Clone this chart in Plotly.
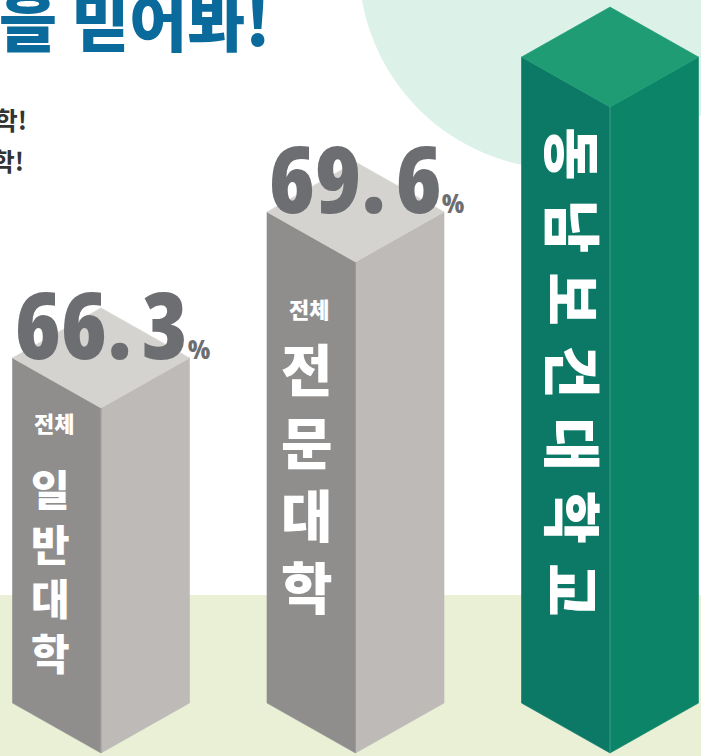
import plotly.graph_objects as go

# ---------------- data ----------------
categories = ["전체 일반대학", "전체 전문대학", "동남보건대학교"]
values = [66.3, 69.6, 73.1]                 # employment rate (%)
show_value = [True, True, False]            # third value label is cropped out of view
scope_labels = ["전체", "전체", ""]
bar_names = ["일반대학", "전문대학", "동남보건대학교"]
title_text = "취업률을 믿어봐!"
sub_lines = ["전국 일반대학보다 취업률 높은 대학!", "전국 전문대학보다 취업률 높은 대학!"]

# ---------------- layout constants ----------------
W, H = 701, 756
STEP_PX = 254.5          # pixels between bar centres
X0_PX = 101              # first bar centre (px)
PX_PER_UNIT = 44.24      # vertical pixels per percentage point
BASE = 58.5              # value at the bar foot
BASE_PX = 703            # pixel row of the bar foot
HALF_PX = 88.5           # half bar width (px)
DEPTH_PX = 50            # isometric depth (px)

xr = [-X0_PX / STEP_PX, (W - X0_PX) / STEP_PX]
yr = [BASE - (H - BASE_PX) / PX_PER_UNIT, BASE + BASE_PX / PX_PER_UNIT]
half = HALF_PX / STEP_PX
depth = DEPTH_PX / PX_PER_UNIT

GRAY = dict(left="#8f8e8d", right="#bdbab7", top="#d5d3d0", edge="#9c9b9a")
GREEN = dict(left="#0b7965", right="#0c8468", top="#1f9c74", edge="#3f9f88")
styles = [GRAY, GRAY, GREEN]

fig = go.Figure()

def face(xs, ys, color):
    fig.add_trace(go.Scatter(
        x=xs + [xs[0]], y=ys + [ys[0]], mode="lines", fill="toself",
        fillcolor=color, line=dict(color=color, width=0.6),
        hoverinfo="skip", showlegend=False))

for i, v in enumerate(values):
    st = styles[i]
    face([i - half, i, i, i - half], [v, v - depth, BASE - depth, BASE], st["left"])
    face([i, i + half, i + half, i], [v - depth, v, BASE, BASE - depth], st["right"])
    face([i - half, i, i + half, i], [v, v + depth, v, v - depth], st["top"])
    fig.add_trace(go.Scatter(x=[i, i], y=[v - depth, BASE - depth], mode="lines",
                             line=dict(color=st["edge"], width=1),
                             hoverinfo="skip", showlegend=False))

NUM_FONT = "Open Sans, sans-serif"
KR_FONT = "Noto Sans CJK KR, Noto Sans KR, sans-serif"

annotations = []
for i, v in enumerate(values):
    if show_value[i]:
        label = f"{v:.1f}".replace(".", ".\u200a")
        annotations.append(dict(
            x=i - half, y=v, xref="x", yref="y", xanchor="left", yanchor="bottom",
            text="<span style='font-stretch:62.5%'>" + label + "</span>"
                 "<span style='font-size:27px;font-stretch:62.5%'>%</span>",
            showarrow=False, xshift=0, yshift=-30,
            font=dict(family=NUM_FONT, size=93, color="#6d6e71", weight=800)))

scope_off = [64, 96]
name_off = [212, 264]
name_size = [42, 56]
name_dx = [-51, -49]
for i in range(2):
    v = values[i]
    annotations.append(dict(
        x=i, y=v, xref="x", yref="y", xanchor="center", yanchor="middle",
        text=scope_labels[i], showarrow=False, xshift=-47, yshift=-scope_off[i],
        font=dict(family=KR_FONT, size=22, color="white", weight=900)))
    annotations.append(dict(
        x=i, y=v, xref="x", yref="y", xanchor="center", yanchor="middle",
        text="<br>".join(bar_names[i]), showarrow=False,
        xshift=name_dx[i], yshift=-name_off[i],
        font=dict(family=KR_FONT, size=name_size[i], color="white", weight=900)))

annotations.append(dict(
    x=2, y=values[2], xref="x", yref="y", xanchor="center", yanchor="middle",
    text="\u2004".join(bar_names[2]), textangle=90, showarrow=False,
    xshift=-35, yshift=-315,
    font=dict(family=KR_FONT, size=58, color="white", weight=900)))

annotations.append(dict(
    x=272 / W, y=1 - 66 / H, xref="paper", yref="paper", xanchor="right", yanchor="bottom",
    text=title_text, showarrow=False,
    font=dict(family=KR_FONT, size=63, color="#0a6a9b", weight=900)))
for line, xr_px, yc in zip(sub_lines, [29, 26], [119, 160]):
    annotations.append(dict(
        x=xr_px / W, y=1 - yc / H, xref="paper", yref="paper", xanchor="right", yanchor="middle",
        text=line, showarrow=False,
        font=dict(family=KR_FONT, size=25, color="#333333", weight="bold")))

shapes = [
    dict(type="circle", xref="paper", yref="paper", layer="below",
         x0=359 / W, x1=767 / W, y0=1 - 169 / H, y1=1 + 239 / H,
         fillcolor="#dcf1e8", line=dict(width=0)),
    dict(type="rect", xref="paper", yref="paper", layer="below",
         x0=0, x1=1, y0=0, y1=1 - 595 / H,
         fillcolor="#e9f0d6", line=dict(width=0)),
]

fig.update_layout(
    width=W, height=H, margin=dict(l=0, r=0, t=0, b=0),
    paper_bgcolor="white", plot_bgcolor="rgba(0,0,0,0)",
    xaxis=dict(range=xr, visible=False, fixedrange=True),
    yaxis=dict(range=yr, visible=False, fixedrange=True),
    annotations=annotations, shapes=shapes, showlegend=False,
)

fig.write_html("out.html", config={"displayModeBar": False},
               post_script="document.body.style.margin='0px';")
